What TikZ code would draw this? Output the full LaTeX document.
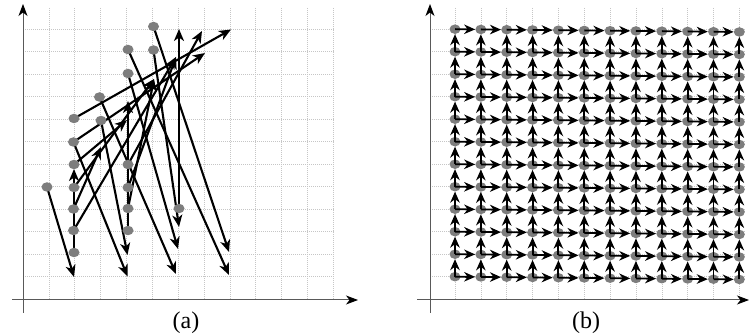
\documentclass[tikz,border=0pt]{standalone}
\usepackage{fontspec}
\setmainfont{Liberation Serif}
\usetikzlibrary{arrows.meta,shapes.geometric}
\definecolor{dotgray}{RGB}{125,125,125}
\begin{document}
\begin{tikzpicture}[x=1pt,y=-1pt,
  gridline/.style={gray!45, line width=0.5pt, dash pattern=on 1pt off 1pt},
  axis/.style={draw=gray!70!black, line width=1pt, -{Stealth[length=12pt,width=9pt,inset=3.5pt,black]}},
  dot/.style={ellipse, fill=dotgray, inner sep=0pt, minimum width=11pt, minimum height=9.5pt},
  vec/.style={line width=2.1pt, -{Stealth[length=12pt,width=10pt,inset=3.5pt]}},
  vecb/.style={line width=1.9pt, -{Stealth[length=11pt,width=9.5pt,inset=3.5pt]}},
  lab/.style={font=\fontsize{24}{28}\selectfont, anchor=base, inner sep=0pt}
]
\useasboundingbox (0,0) rectangle (749,336);

% ---------------- panel (a) ----------------
\foreach \i in {1,...,12} \draw[gridline] ({23+25.85*\i},8) -- ({23+25.85*\i},300);
\foreach \j in {1,...,12} \draw[gridline] (23,{299.2-22.5*\j}) -- (335,{299.2-22.5*\j});
\coordinate (axA0) at (12,300);
\coordinate (axA1) at (358,300);
\coordinate (ayA0) at (23,313);
\coordinate (ayA1) at (23,4);
\draw[axis] (axA0) -- (axA1);
\draw[axis] (ayA0) -- (ayA1);

% dot positions
\coordinate (D1) at (47,187);
\coordinate (D2) at (74,118.5);
\coordinate (D3) at (73.5,142);
\coordinate (D4) at (74,164.5);
\coordinate (D5) at (74,187.5);
\coordinate (D6) at (73.5,209);
\coordinate (D7) at (73.5,230.5);
\coordinate (D8) at (74,252.5);
\coordinate (D9) at (99.5,97);
\coordinate (D10) at (101,120.5);
\coordinate (D11) at (128,49.5);
\coordinate (D12) at (128,73.5);
\coordinate (D13) at (128,164.5);
\coordinate (D14) at (128,187.5);
\coordinate (D15) at (128,208.5);
\coordinate (D16) at (128,230.5);
\coordinate (D17) at (153.5,26.5);
\coordinate (D18) at (153.5,50);
\coordinate (D19) at (179,208.5);
% arrow tips
\coordinate (ta) at (74,277);
\coordinate (tb) at (74,169);
\coordinate (tc) at (101,147);
\coordinate (td) at (127.5,276.5);
\coordinate (te) at (127.5,255);
\coordinate (tf) at (128,101);
\coordinate (tg) at (127,120);
\coordinate (th) at (154,79);
\coordinate (tj) at (176,57);
\coordinate (tk) at (179,29);
\coordinate (tl) at (179,227);
\coordinate (tm) at (178,249);
\coordinate (tn) at (176,274);
\coordinate (to) at (202,31);
\coordinate (tp) at (231,29.5);
\coordinate (tq) at (205,53);
\coordinate (tr) at (229,252);
\coordinate (ts) at (229,275);

\draw[vec] (D1) -- (ta);
\draw[vec] (D8) -- (tb);
\draw[vec] (D2) -- (tp);
\draw[vec] (D3) -- (tq);
\draw[vec] (D3) -- (td);
\draw[vec] (D4) -- (tg);
\draw[vec] (D5) -- (th);
\draw[vec] (D6) -- (tc);
\draw[vec] (D7) -- (tj);
\draw[vec] (D13) -- (to);
\draw[vec] (D14) -- (tj);
\draw[vec] (D15) -- (th);
\draw[vec] (D16) -- (tf);
\draw[vec] (D19) -- (tk);
\draw[vec] (D10) -- (te);
\draw[vec] (D9) -- (tn);
\draw[vec] (D12) -- (tm);
\draw[vec] (D11) -- (ts);
\draw[vec] (D17) -- (tr);
\draw[vec] (D18) -- (tl);

\foreach \k in {1,...,19} \node[dot] (dA\k) at (D\k) {};

\node[lab] (la) at (186,329) {(a)};

% ---------------- panel (b) ----------------
\foreach \i in {1,...,12} \draw[gridline] ({429.15+25.85*\i},8) -- ({429.15+25.85*\i},300);
\foreach \j in {1,...,12} \draw[gridline] (430,{299.2-22.5*\j}) -- (745,{299.2-22.5*\j});
\coordinate (axB0) at (417,300);
\coordinate (axB1) at (749,300);
\coordinate (ayB0) at (430,313);
\coordinate (ayB1) at (430,4);
\draw[axis] (axB0) -- (axB1);
\draw[axis] (ayB0) -- (ayB1);

\foreach \i in {0,...,11}{
  \foreach \j in {0,...,11}{
    \node[dot] (b-\i-\j) at ({455+25.85*\i},{276.7-22.5*\j+0.25*\i}) {};
  }
}
\foreach \i in {0,...,11}{
  \foreach \j in {0,...,11}{
    \pgfmathtruncatemacro\ni{\i+1}
    \pgfmathtruncatemacro\nj{\j+1}
    \ifnum\i<11 \draw[vecb] (b-\i-\j.center) -- (b-\ni-\j); \fi
    \ifnum\j<11 \draw[vecb] (b-\i-\j.center) -- (b-\i-\nj); \fi
  }
}

\node[lab] (lb) at (586,329) {(b)};
\end{tikzpicture}
\end{document}
